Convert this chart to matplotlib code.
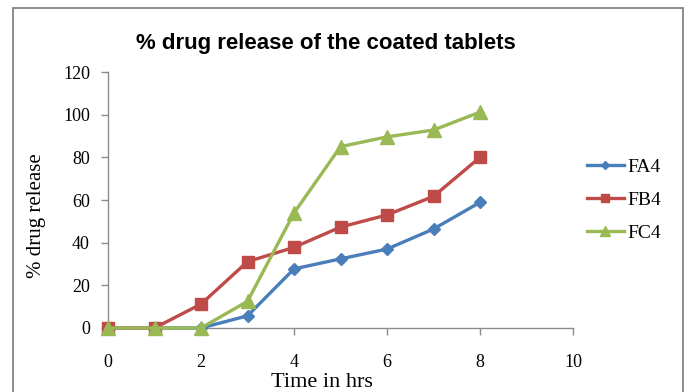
import matplotlib
matplotlib.use("Agg")
import matplotlib.pyplot as plt
from matplotlib.patches import Rectangle

# Dissolution data (% drug released vs. time in hours)
time_hrs = [0, 1, 2, 3, 4, 5, 6, 7, 8]
fa4 = [0, 0, 0, 5.7, 27.7, 32.4, 37.0, 46.4, 58.9]
fb4 = [0, 0, 11.2, 31.1, 37.8, 47.3, 53.0, 61.7, 80.0]
fc4 = [0, 0, 0, 12.5, 53.9, 85.0, 89.6, 92.8, 101.2]
series_names = ["FA4", "FB4", "FC4"]
x_ticks = [0, 2, 4, 6, 8, 10]
y_ticks = [0, 20, 40, 60, 80, 100, 120]

W, H = 691, 392
fig = plt.figure(figsize=(W / 100, H / 100), dpi=100)
fig.patch.set_facecolor("white")

# chart frame
fig.patches.append(Rectangle((13.5 / W, -0.05), (682.5 - 13.5) / W, 1.05 - 7.5 / H,
                             transform=fig.transFigure, fill=False,
                             edgecolor="#8c8c8c", linewidth=1.4))

ax = fig.add_axes([108 / W, 1 - 328 / H, (573 - 108) / W, (328 - 72) / H])

serif = "Liberation Serif"
axis_grey = "#8c8c8c"

ax.plot(time_hrs, fa4, color="#4A7EBB", marker="D", markersize=6.5, linewidth=2.4,
        label=series_names[0], zorder=3)
ax.plot(time_hrs, fb4, color="#BE4B48", marker="s", markersize=8.5, linewidth=2.4,
        label=series_names[1], zorder=4)
ax.plot(time_hrs, fc4, color="#98B954", marker="^", markersize=10, linewidth=2.4,
        label=series_names[2], zorder=5)

ax.set_xlim(0, 10)
ax.set_ylim(0, 120)
ax.set_xticks(x_ticks)
ax.set_yticks(y_ticks)
ax.set_xticklabels([str(v) for v in x_ticks], fontfamily=serif, fontsize=13)
ax.set_yticklabels([str(v) for v in y_ticks], fontfamily=serif, fontsize=13)
ax.tick_params(axis="both", direction="out", length=5, width=1, color=axis_grey,
               labelcolor="black")
ax.tick_params(axis="x", pad=14)
ax.tick_params(axis="y", pad=8)

for side in ("top", "right"):
    ax.spines[side].set_visible(False)
for side in ("left", "bottom"):
    ax.spines[side].set_color(axis_grey)
    ax.spines[side].set_linewidth(1)

for line in ax.get_lines():
    line.set_clip_on(False)

fig.text(322 / W, 1 - 387 / H, "Time in hrs", fontfamily=serif, fontsize=16,
         ha="center", va="baseline")
fig.text(37 / W, 1 - 216 / H, "% drug release", fontfamily=serif, fontsize=15,
         rotation=90, ha="center", va="center")

fig.text(326 / W, 1 - 43 / H, "% drug release of the coated tablets",
         fontfamily="Liberation Sans", fontweight="bold", fontsize=16,
         ha="center", va="center")

leg = ax.legend(loc="center left", bbox_to_anchor=(569 / W, 1 - 200 / H),
                bbox_transform=fig.transFigure, frameon=False,
                prop={"family": serif, "size": 14}, handlelength=1.95,
                handletextpad=0.15, labelspacing=0.8, markerscale=0.7)

fig.savefig("out.png", dpi=100)
